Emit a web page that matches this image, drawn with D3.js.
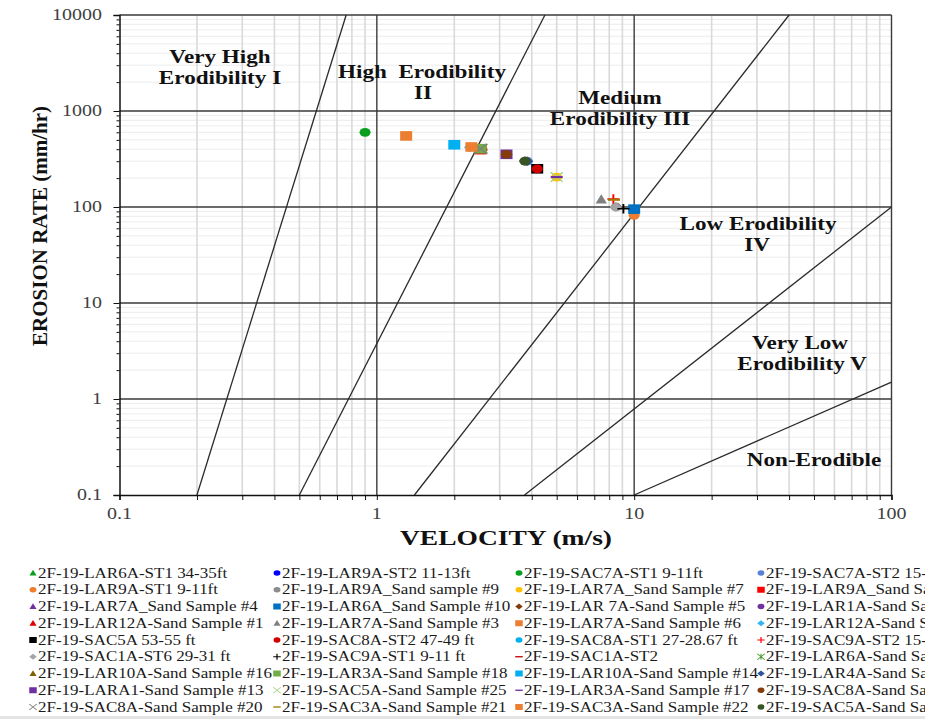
<!DOCTYPE html>
<html><head><meta charset="utf-8">
<script src="https://cdn.jsdelivr.net/npm/d3@7"></script>
<style>
html,body{margin:0;padding:0;background:#fff;overflow:hidden}
text{white-space:pre}
</style>
</head><body>
<svg id="chart" width="925" height="719"></svg>
<script>
// ---------------- DATA ----------------
const seriesNames = [
 "2F-19-LAR6A-ST1 34-35ft","2F-19-LAR9A-ST2 11-13ft","2F-19-SAC7A-ST1 9-11ft","2F-19-SAC7A-ST2 15-17ft",
 "2F-19-LAR9A-ST1 9-11ft","2F-19-LAR9A_Sand sample #9","2F-19-LAR7A_Sand Sample #7","2F-19-LAR9A_Sand Sample #8",
 "2F-19-LAR7A_Sand Sample #4","2F-19-LAR6A_Sand Sample #10","2F-19-LAR 7A-Sand Sample #5","2F-19-LAR1A-Sand Sample #12",
 "2F-19-LAR12A-Sand Sample #1","2F-19-LAR7A-Sand Sample #3","2F-19-LAR7A-Sand Sample #6","2F-19-LAR12A-Sand Sample #2",
 "2F-19-SAC5A 53-55 ft","2F-19-SAC8A-ST2 47-49 ft","2F-19-SAC8A-ST1 27-28.67 ft","2F-19-SAC9A-ST2 15-17 ft",
 "2F-19-SAC1A-ST6 29-31 ft","2F-19-SAC9A-ST1 9-11 ft","2F-19-SAC1A-ST2","2F-19-LAR6A-Sand Sample #15",
 "2F-19-LAR10A-Sand Sample #16","2F-19-LAR3A-Sand Sample #18","2F-19-LAR10A-Sand Sample #14","2F-19-LAR4A-Sand Sample #11",
 "2F-19-LARA1-Sand Sample #13","2F-19-SAC5A-Sand Sample #25","2F-19-LAR3A-Sand Sample #17","2F-19-SAC8A-Sand Sample #19",
 "2F-19-SAC8A-Sand Sample #20","2F-19-SAC3A-Sand Sample #21","2F-19-SAC3A-Sand Sample #22","2F-19-SAC5A-Sand Sample #24"
];
// velocity (m/s) and erosion rate (mm/hr), one point per series
const velocity = [
 2.53, 10, 0.9, 3.84,
 10, 8.5, 5.0, 2.53,
 3.2, 10, 3.76, 3.2,
 4.2, 7.45, 1.3, 2.3,
 4.2, 4.2, 2.0, 8.3,
 8.47, 9.08, 2.55, 2.55,
 2.5, 2.53, 2.0, 3.84,
 3.19, 5.0, 5.0, 3.19,
 2.53, 8.35, 2.33, 3.76
];
const erosionRate = [
 402, 95, 600, 300,
 82, 100, 205, 396,
 352, 95, 301, 354,
 250, 120, 550, 418,
 250, 250, 445, 121,
 100, 96, 396, 405,
 405, 405, 445, 300,
 354, 205, 205, 354,
 405, 119, 422, 301
];
// marker styles
const seriesShapes = [
 "tri","circle","circle","circle",
 "circle","circle","circle","square",
 "tri","square","diamond","circle",
 "tri","tri","square","diamond",
 "square","circle","circle","plus",
 "diamond","plus","dash","star",
 "tri","square","square","diamond",
 "square","x","dash","circle",
 "x","dash","square","circle"
];
const seriesColors = [
 "#0a9e1e","#0000ff","#0a9e1e","#5b82d2",
 "#ed7d31","#8c8c8c","#ffc000","#ff0000",
 "#7030a0","#0070c0","#843c0c","#7030a0",
 "#e00000","#808080","#ed7d31","#33b5f5",
 "#000000","#d00000","#00b0f0","#ff0000",
 "#a5a5a5","#000000","#c00000","#4e9a2e",
 "#806000","#70ad47","#00b0f0","#2f5597",
 "#7030a0","#a9d18e","#7030a0","#843c0c",
 "#808080","#a07800","#ed7d31","#375623"
];
// erodibility boundary lines [velocity, rate] start/end
const boundaryStart = [[0.2,0.1],[0.5,0.1],[1.4,0.1],[3.75,0.1],[10,0.1]];
const boundaryEnd   = [[0.76,10000],[4.5,10000],[40,10000],[100,100],[100,1.5]];
const xTicks = [0.1,1,10,100];
const yTicks = [0.1,1,10,100,1000,10000];
const xTickLabels = ["0.1","1","10","100"];
const yTickLabels = ["0.1","1","10","100","1000","10000"];
const regionLabels = [
 ["Very High",220,63],["Erodibility I",220,84],
 ["High  Erodibility",422,78],["II",423,99],
 ["Medium",620,104],["Erodibility III",620,125],
 ["Low Erodibility",758,230],["IV",757,251],
 ["Very Low",800,349],["Erodibility V",802,370],
 ["Non-Erodible",814,466]
];

// ---------------- CHART ----------------
const svg = d3.select("#chart");
const SX = 1.25; // horizontal stretch of the original picture
const x = d3.scaleLog().domain([0.1,100]).range([119.5,891.5]);
const y = d3.scaleLog().domain([0.1,10000]).range([495,15]);
const serif = "'Liberation Serif','Times New Roman',serif";

function stext(parent, str, px, py, size, anchor, weight, fill){
  const g = parent.append("g").attr("transform",`translate(${px},${py}) scale(${SX},1)`);
  g.append("text").attr("x",0).attr("y",0).attr("text-anchor",anchor)
    .attr("font-family",serif).attr("font-size",size).attr("font-weight",weight||"normal")
    .attr("fill",fill||"#000").text(str);
  return g;
}

const minorX = [], minorY = [];
[0.1,1,10].forEach(d=>{for(let k=2;k<=9;k++) minorX.push(d*k);});
[0.1,1,10,100,1000].forEach(d=>{for(let k=2;k<=9;k++) minorY.push(d*k);});

const grid = svg.append("g");
grid.selectAll("line.hm").data(minorY).join("line")
  .attr("x1",x(0.1)).attr("x2",x(100)).attr("y1",d=>y(d)).attr("y2",d=>y(d))
  .attr("stroke","#ececec").attr("stroke-width",1);
grid.selectAll("line.vm").data(minorX).join("line")
  .attr("y1",y(0.1)).attr("y2",y(10000)).attr("x1",d=>x(d)).attr("x2",d=>x(d))
  .attr("stroke","#d9d9d9").attr("stroke-width",1.6);
grid.selectAll("line.hM").data(yTicks.slice(1)).join("line")
  .attr("x1",x(0.1)).attr("x2",x(100)).attr("y1",d=>y(d)).attr("y2",d=>y(d))
  .attr("stroke","#3a3a3a").attr("stroke-width",1.4);
grid.selectAll("line.vM").data(xTicks.slice(1)).join("line")
  .attr("y1",y(0.1)).attr("y2",y(10000)).attr("x1",d=>x(d)).attr("x2",d=>x(d))
  .attr("stroke","#3a3a3a").attr("stroke-width",1.4);

// boundary lines
svg.append("g").selectAll("line").data(boundaryStart).join("line")
  .attr("x1",d=>x(d[0])).attr("y1",d=>y(d[1]))
  .attr("x2",(d,i)=>x(boundaryEnd[i][0])).attr("y2",(d,i)=>y(boundaryEnd[i][1]))
  .attr("stroke","#2a2a2a").attr("stroke-width",1.3);

// axes
const xAxis = svg.append("g").attr("transform",`translate(0,${y(0.1)})`)
  .call(d3.axisBottom(x).tickValues(xTicks.concat(minorX)).tickSize(5).tickFormat(""));
const yAxis = svg.append("g").attr("transform",`translate(${x(0.1)},0)`)
  .call(d3.axisLeft(y).tickValues(yTicks).tickSize(6).tickFormat(""));
svg.append("g").attr("transform",`translate(${x(0.1)},0)`)
  .call(d3.axisLeft(y).tickValues(minorY).tickSize(3).tickFormat(""))
  .select(".domain").remove();
[xAxis,yAxis].forEach(a=>{a.select(".domain").attr("stroke","#111").attr("stroke-width",1.5);});
svg.selectAll(".tick line").attr("stroke","#111");

// tick labels
xTicks.forEach((v,i)=>stext(svg,xTickLabels[i],x(v),519,16,"middle","normal","#404040"));
yTicks.forEach((v,i)=>stext(svg,yTickLabels[i],102,y(v)+5.3,16,"end","normal","#404040"));

// axis titles
stext(svg,"VELOCITY (m/s)",506,545,22,"middle","bold","#111");
svg.append("text").attr("transform","translate(47,226) rotate(-90)")
  .attr("text-anchor","middle").attr("font-family",serif).attr("font-size",21)
  .attr("font-weight","bold").attr("fill","#111").text("EROSION RATE (mm/hr)");

// region labels
regionLabels.forEach(r=>stext(svg,r[0],r[1],r[2],18.5,"middle","bold","#111"));

// markers
function marker(g, shape, color, s){
  const h = s/2;
  switch(shape){
    case "circle": g.append("circle").attr("r",h*0.92).attr("fill",color); break;
    case "square": g.append("rect").attr("x",-h).attr("y",-h).attr("width",s).attr("height",s).attr("fill",color); break;
    case "tri": g.append("path").attr("d",`M0,${-h*1.05}L${h*0.95},${h*0.85}L${-h*0.95},${h*0.85}Z`).attr("fill",color); break;
    case "diamond": g.append("path").attr("d",`M0,${-h}L${h},0L0,${h}L${-h},0Z`).attr("fill",color); break;
    case "plus": g.append("path").attr("d",`M${-h},0H${h}M0,${-h}V${h}`).attr("stroke",color).attr("stroke-width",s*0.16).attr("fill","none"); break;
    case "dash": g.append("path").attr("d",`M${-h},0H${h}`).attr("stroke",color).attr("stroke-width",s*0.22).attr("fill","none"); break;
    case "x": g.append("path").attr("d",`M${-h},${-h}L${h},${h}M${-h},${h}L${h},${-h}`).attr("stroke",color).attr("stroke-width",s*0.14).attr("fill","none"); break;
    case "star": g.append("path").attr("d",`M${-h},${-h}L${h},${h}M${-h},${h}L${h},${-h}M0,${-h}V${h}`).attr("stroke",color).attr("stroke-width",s*0.14).attr("fill","none"); break;
  }
}
const pts = svg.append("g");
seriesNames.forEach((n,i)=>{
  const g = pts.append("g").attr("transform",`translate(${x(velocity[i])},${y(erosionRate[i])}) scale(${SX},1)`);
  marker(g, seriesShapes[i], seriesColors[i], 9.6);
});

// legend (4th column runs past the right edge, as in the original)
const colX = [38,282,524,766];
const row0 = 573, rowH = 16.75;
const leg = svg.append("g");
seriesNames.forEach((n,i)=>{
  const c = i%4, r = Math.floor(i/4);
  const cy = row0 + r*rowH;
  const mg = leg.append("g").attr("transform",`translate(${colX[c]-5},${cy}) scale(${SX},1)`);
  marker(mg, seriesShapes[i], seriesColors[i], 6);
  stext(leg, n, colX[c], cy+4.6, 13.6, "start", "normal", "#1a1a1a");
});
svg.append("rect").attr("x",0).attr("y",716).attr("width",925).attr("height",3).attr("fill","#e4e4e4");
</script>
</body></html>
